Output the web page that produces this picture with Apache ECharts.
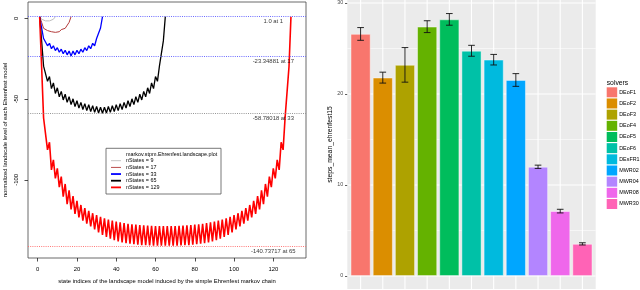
<!DOCTYPE html>
<html><head><meta charset="utf-8">
<script src="https://cdn.jsdelivr.net/npm/echarts@6/dist/echarts.min.js"></script>
<style>html,body{margin:0;padding:0;background:#fff}#c{width:640px;height:290px}</style>
</head><body><div id="c"></div>
<script>
// ---------------- left panel: Ehrenfest landscape levels ----------------
const seriesNames = ['nStates = 9', 'nStates = 17', 'nStates = 33', 'nStates = 65', 'nStates = 129'];
const levels9 = [1, -0.6, -1.6, -1.6, -2.3, -1.6, -1.6, -0.6, 1];
const levels17 = [1, -2.5, -6.2, -6.2, -7.6, -7.0, -8.3, -7.5, -8.7, -7.5, -8.3, -7.0, -7.6, -6.2, -6.2, -2.5, 1];
const levels33 = [1, -6, -12.5, -12.5, -17, -15.5, -18.8, -17, -20, -18.2, -21, -19.1, -21.9, -19.8, -22.6, -20.3, -23.35,
  -20.3, -22.6, -19.8, -21.9, -19.1, -21, -18.2, -20, -17, -18.8, -15.5, -17, -12.5, -12.5, -6, 1];
const levels65 = [1, -14, -29.6, -29.6, -39.0, -36.0, -43.5, -40.0, -46.5, -43.0, -48.6, -45.2, -50.5, -47.0, -52.0, -48.5,
  -53.4, -49.8, -54.6, -51.0, -55.6, -52.0, -56.4, -52.8, -57.1, -53.5, -57.7, -54.1, -58.2, -54.6, -58.6, -55.0, -58.78,
  -55.0, -58.6, -54.6, -58.2, -54.1, -57.7, -53.5, -57.1, -52.8, -56.4, -52.0, -55.6, -51.0, -54.6, -49.8, -53.4,
  -48.5, -52.0, -47.0, -50.5, -45.2, -48.6, -43.0, -46.5, -40.0, -43.5, -36.0, -39.0, -29.6, -29.6, -14, 1];
const levels129 = [1, -30, -61.7, -61.7, -81.4, -76.7, -93.8, -87.6, -99.0, -92.8, -104.5, -98.0, -110.3, -102.5, -115.0, -106.5,
  -118.3, -110.0, -121.0, -113.0, -123.2, -115.5, -125.2, -117.5, -127.1, -119.2, -128.8, -120.6, -130.6, -121.8, -132.4, -122.8,
  -134.0, -123.7, -135.3, -124.5, -136.4, -125.2, -137.3, -125.8, -138.0, -126.3, -138.6, -126.7, -139.1, -127.1, -139.5, -127.4,
  -139.8, -127.7, -140.1, -127.9, -140.3, -128.1, -140.4, -128.3, -140.5, -128.4, -140.6, -128.5, -140.7, -128.6, -140.72, -128.6,
  -140.74,
  -128.6, -140.72, -128.6, -140.7, -128.5, -140.6, -128.4, -140.5, -128.3, -140.4, -128.1, -140.3, -127.9, -140.1, -127.7, -139.8,
  -127.4, -139.5, -127.1, -139.1, -126.7, -138.6, -126.3, -138.0, -125.8, -137.3, -125.2, -136.4, -124.5, -135.3, -123.7, -134.0,
  -122.8, -132.4, -121.8, -130.6, -120.6, -128.8, -119.2, -127.1, -117.5, -125.2, -115.5, -123.2, -113.0, -121.0, -110.0, -118.3,
  -106.5, -115.0, -102.5, -110.3, -98.0, -104.5, -92.8, -99.0, -87.6, -93.8, -76.7, -81.4, -61.7, -61.7, -30, 1];
const refValues = [1.0, -23.34881, -58.78018, -140.73717];
const refLabels = ['1.0 at 1', '-23.34881 at 17', '-58.78018 at 33', '-140.73717 at 65'];
const refLabelState = 120;
const xTicksLeft = [0, 20, 40, 60, 80, 100, 120];
const yTicksLeft = [0, -50, -100];

// ---------------- right panel: solver bars ----------------
const solvers = ['DEoF1', 'DEoF2', 'DEoF3', 'DEoF4', 'DEoF5', 'DEoF6', 'DEsFR1', 'MWR02', 'MWR04', 'MWR08', 'MWR30'];
const stepMeans = [26.6, 21.8, 23.2, 27.4, 28.2, 24.75, 23.77, 21.54, 12.0, 7.13, 3.53];
const stepErr = [0.7, 0.6, 1.9, 0.65, 0.64, 0.6, 0.58, 0.7, 0.18, 0.2, 0.12];
const yTicksRight = [0, 10, 20, 30];
const yMinorRight = [5, 15, 25];

// ---------------- styles ----------------
const FONT = 'Liberation Sans';
const FS_LEFT = 5.9;
const lineColors = ['#BEBEBE', '#B23A3A', '#0000FF', '#000000', '#FF0000'];
const lineWidths = [1, 1, 1.3, 1.3, 1.6];
const legendIcons = [
  'path://M0,0M10,6M0,2.55h10v0.9h-10z',
  'path://M0,0M10,6M0,2.55h10v0.9h-10z',
  'path://M0,0M10,6M0,2.1h10v1.8h-10z',
  'path://M0,0M10,6M0,2.1h10v1.8h-10z',
  'path://M0,0M10,6M0,2.1h10v1.8h-10z'
];
const refColors = ['#5a5aff', '#5a5aff', '#8a8a8a', '#ff6a6a'];
const solverColors = ['#F8766D', '#DB8E00', '#AEA200', '#64B200', '#00BD5C', '#00C1A7', '#00BADE', '#00A6FF', '#B385FF', '#EF67EB', '#FF63B6'];
const allLevels = [levels9, levels17, levels33, levels65, levels129];

const chart = echarts.init(document.getElementById('c'), null, {renderer: 'canvas'});

const series = [];
allLevels.forEach((lv, k) => {
  series.push({
    type: 'line', name: seriesNames[k], xAxisIndex: 0, yAxisIndex: 0,
    data: lv.map((v, i) => [i + 1, v]),
    symbol: 'none', showSymbol: false,
    lineStyle: {color: lineColors[k], width: lineWidths[k]},
    itemStyle: {color: lineColors[k]},
    z: 2 + k * 0.01
  });
});
series.push({
  type: 'scatter', name: 'refs', xAxisIndex: 0, yAxisIndex: 0,
  data: refValues.map(v => [refLabelState, v]),
  symbolSize: 1, itemStyle: {color: 'rgba(0,0,0,0)'},
  label: {show: true, position: 'bottom', distance: 1.6, fontSize: FS_LEFT, fontFamily: FONT, color: '#000',
    formatter: p => refLabels[p.dataIndex]},
  markLine: {
    silent: true, symbol: ['none', 'none'], label: {show: false},
    data: refValues.map((v, i) => ({yAxis: v, lineStyle: {color: refColors[i], type: [1, 1.2], width: 0.9}}))
  },
  z: 3
});
// right panel grid lines
series.push({
  type: 'custom', name: 'hgrid', xAxisIndex: 1, yAxisIndex: 1, silent: true, z: 1,
  data: yTicksRight.map(v => [1, v, 1]).concat(yMinorRight.map(v => [1, v, 0])),
  encode: {x: 0, y: 1},
  renderItem: (params, api) => {
    const cs = params.coordSys;
    const y = api.coord([1, api.value(1)])[1];
    return {type: 'line', shape: {x1: cs.x, y1: y, x2: cs.x + cs.width, y2: y},
      style: {stroke: '#fff', lineWidth: api.value(2) ? 1.1 : 0.55}};
  }
});
series.push({
  type: 'custom', name: 'vgrid', xAxisIndex: 1, yAxisIndex: 1, silent: true, z: 1,
  data: solvers.map((s, i) => [i + 1, 0]),
  encode: {x: 0, y: 1},
  renderItem: (params, api) => {
    const cs = params.coordSys;
    const x = api.coord([api.value(0), 0])[0];
    return {type: 'line', shape: {x1: x, y1: cs.y, x2: x, y2: cs.y + cs.height},
      style: {stroke: '#fff', lineWidth: 1.1}};
  }
});
solvers.forEach((name, i) => {
  series.push({
    type: 'bar', name: name, xAxisIndex: 1, yAxisIndex: 1,
    data: [[i + 1, stepMeans[i]]],
    barWidth: 20, barGap: '-100%',
    itemStyle: {color: solverColors[i], borderColor: 'rgba(255,255,255,0.55)', borderWidth: 0.8},
    z: 2
  });
});
series.push({
  type: 'custom', name: 'errors', xAxisIndex: 1, yAxisIndex: 1, silent: true, z: 4,
  data: solvers.map((s, i) => [i + 1, stepMeans[i] - stepErr[i], stepMeans[i] + stepErr[i]]),
  encode: {x: 0, y: [1, 2]},
  renderItem: (params, api) => {
    const x = api.value(0);
    const lo = api.coord([x, api.value(1)]);
    const hi = api.coord([x, api.value(2)]);
    const hw = api.size([0.15, 0])[0];
    const st = {stroke: '#111', lineWidth: 0.9};
    return {type: 'group', children: [
      {type: 'line', shape: {x1: lo[0], y1: lo[1], x2: hi[0], y2: hi[1]}, style: st},
      {type: 'line', shape: {x1: lo[0] - hw, y1: lo[1], x2: lo[0] + hw, y2: lo[1]}, style: st},
      {type: 'line', shape: {x1: hi[0] - hw, y1: hi[1], x2: hi[0] + hw, y2: hi[1]}, style: st}
    ]};
  }
});

const option = {
  animation: false,
  textStyle: {fontFamily: FONT},
  grid: [
    {left: 28, top: 2, width: 278, height: 256, show: true, borderColor: '#444', borderWidth: 0.8,
      backgroundColor: 'transparent', containLabel: false, outerBoundsMode: 'none'},
    {left: 347.3, top: 0, width: 248.4, height: 289, show: true, borderWidth: 0,
      backgroundColor: '#EBEBEB', containLabel: false, outerBoundsMode: 'none'}
  ],
  xAxis: [
    {type: 'value', gridIndex: 0, min: -4.94, max: 136.66, position: 'bottom',
      axisLine: {show: false, onZero: false}, splitLine: {show: false},
      axisTick: {show: true, customValues: xTicksLeft, length: 3.5, lineStyle: {color: '#222', width: 0.8}},
      axisLabel: {customValues: xTicksLeft, fontSize: FS_LEFT, color: '#000', margin: 8.3},
      name: 'state indices of the landscape model induced by the simple Ehrenfest markov chain',
      nameLocation: 'middle', nameGap: 20.5, nameTextStyle: {fontSize: FS_LEFT, color: '#000'}},
    {type: 'value', gridIndex: 1, min: 0.4, max: 11.6, show: false, axisLine: {onZero: false}}
  ],
  yAxis: [
    {type: 'value', gridIndex: 0, min: -148.3, max: 10.08, position: 'left',
      axisLine: {show: false, onZero: false}, splitLine: {show: false},
      axisTick: {show: true, customValues: yTicksLeft, length: 3.5, lineStyle: {color: '#222', width: 0.8}},
      axisLabel: {customValues: yTicksLeft, fontSize: FS_LEFT, color: '#000', rotate: 90, margin: 8.5},
      name: 'normalized landscale level of each Ehrenfest model',
      nameLocation: 'middle', nameGap: 19.5, nameTextStyle: {fontSize: FS_LEFT, color: '#000'}},
    {type: 'value', gridIndex: 1, min: -1.43, max: 30.33, position: 'left',
      axisLine: {show: false, onZero: false}, splitLine: {show: false},
      axisTick: {show: true, customValues: yTicksRight, length: 2.3, lineStyle: {color: '#333', width: 0.8}},
      axisLabel: {customValues: yTicksRight, fontSize: 5.4, color: '#4D4D4D', margin: 4},
      name: 'steps_mean_ehrenfest15', nameLocation: 'middle', nameGap: 7.5,
      nameTextStyle: {fontSize: 6.8, color: '#000'}}
  ],
  legend: [
    {data: seriesNames.map((n, k) => ({name: n, icon: legendIcons[k]})), orient: 'vertical', left: 111, top: 157.7, padding: 0,
      itemWidth: 10, itemHeight: 6, itemGap: 0.67, selectedMode: false,
      textStyle: {fontSize: 5.4, color: '#000', fontFamily: FONT}},
    {data: solvers, orient: 'vertical', left: 606.7, top: 87.3, padding: 0,
      itemWidth: 10.5, itemHeight: 10, itemGap: 1.17, icon: 'rect', selectedMode: false,
      itemStyle: {borderWidth: 0},
      textStyle: {fontSize: 5.4, color: '#000', fontFamily: FONT, padding: [0, 0, 0, -3]}}
  ],
  graphic: [
    {type: 'rect', shape: {x: 106, y: 148.3, width: 115, height: 45.7}, style: {fill: 'none', stroke: '#555', lineWidth: 0.8}, silent: true},
    {type: 'text', x: 126, y: 154.3, silent: true,
      style: {text: 'markov.stpm.Ehrenfest.landscape.plot', font: '5.4px "Liberation Sans"', fill: '#000', verticalAlign: 'middle'}},
    {type: 'text', x: 606.7, y: 82.7, silent: true,
      style: {text: 'solvers', font: '6.8px "Liberation Sans"', fill: '#000', verticalAlign: 'middle'}}
  ],
  series: series
};
chart.setOption(option);
</script>
</body></html>
